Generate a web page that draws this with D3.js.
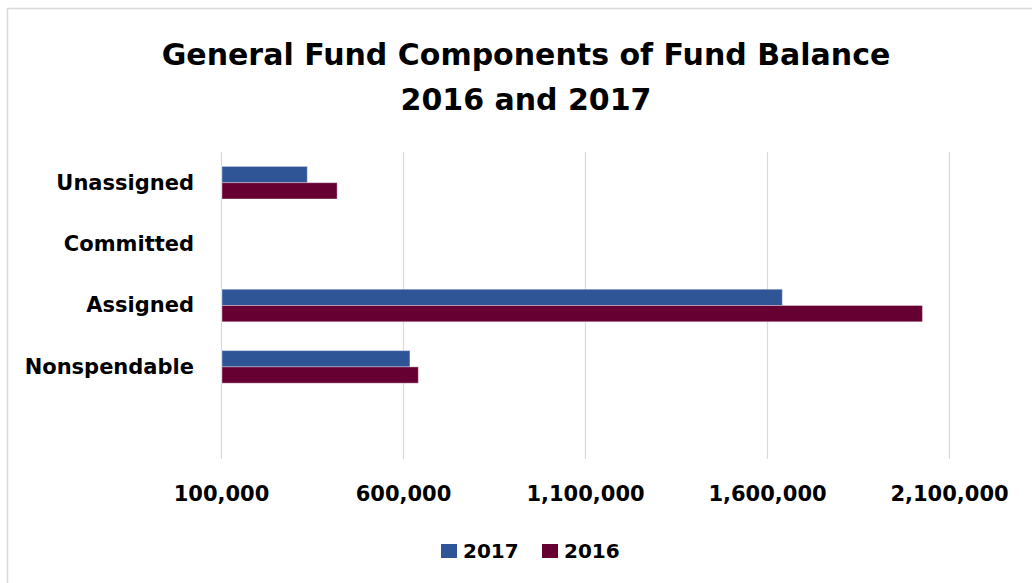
<!DOCTYPE html>
<html>
<head>
<meta charset="utf-8">
<script src="https://cdn.jsdelivr.net/npm/d3@7"></script>
<style>
  html, body { margin: 0; padding: 0; background: #fff; }
  svg { display: block; }
  text { font-family: "DejaVu Sans", sans-serif; font-weight: bold; fill: #000; }
</style>
</head>
<body>
<svg id="chart" width="1032" height="583"></svg>
<script>
// Fund balance components, bottom row left blank as in the source table
const categories = ["Unassigned", "Committed", "Assigned", "Nonspendable", ""];
const series = ["2017", "2016"];
const values2017 = [337000, 0, 1642000, 619000, null];
const values2016 = [419000, 0, 2027000, 642000, null];
const tickValues = [100000, 600000, 1100000, 1600000, 2100000];
const titleLines = ["General Fund Components of Fund Balance", "2016 and 2017"];
const colors = { "2017": "#2F5597", "2016": "#660033" };

const svg = d3.select("#chart");

// chart frame
svg.append("rect")
  .attr("x", 7.5).attr("y", 8.5)
  .attr("width", 1040).attr("height", 600)
  .attr("fill", "#fff").attr("stroke", "#d9d9d9").attr("stroke-width", 1.5);

const plot = { left: 221, right: 949, top: 152, bottom: 459 };

const x = d3.scaleLinear()
  .domain([tickValues[0], tickValues[tickValues.length - 1]])
  .range([plot.left, plot.right])
  .clamp(true);

const y = d3.scaleBand()
  .domain(categories)
  .range([plot.top, plot.bottom])
  .paddingInner(0.47)
  .paddingOuter(0.235);

const ySub = d3.scaleBand()
  .domain(series)
  .range([0, y.bandwidth()]);

// title
svg.append("text")
  .attr("x", 526).attr("text-anchor", "middle")
  .style("font-size", "30px")
  .selectAll("tspan")
  .data(titleLines)
  .join("tspan")
  .attr("x", 526)
  .attr("y", (d, i) => 65 + i * 45)
  .text(d => d);

// vertical gridlines
svg.append("g")
  .selectAll("line")
  .data(tickValues)
  .join("line")
  .attr("x1", d => x(d) + 0.5).attr("x2", d => x(d) + 0.5)
  .attr("y1", plot.top).attr("y2", plot.bottom)
  .attr("stroke", "#d9d9d9").attr("stroke-width", 1.2);

// x axis tick labels
const xAxis = d3.axisBottom(x)
  .tickValues(tickValues)
  .tickFormat(d3.format(","))
  .tickSize(0)
  .tickPadding(0);
const gx = svg.append("g")
  .attr("transform", `translate(0,${plot.bottom})`)
  .call(xAxis);
gx.select(".domain").remove();
gx.selectAll("text")
  .attr("y", 42).attr("dy", 0)
  .style("font-size", "21px")
  .style("font-family", "DejaVu Sans, sans-serif")
  .style("font-weight", "bold")
  .attr("fill", "#000");

// category labels
const yAxis = d3.axisLeft(y).tickSize(0).tickPadding(0);
const gy = svg.append("g")
  .attr("transform", `translate(194,0)`)
  .call(yAxis);
gy.select(".domain").remove();
gy.selectAll("text")
  .attr("dy", "0.33em")
  .style("font-size", "21px")
  .style("font-family", "DejaVu Sans, sans-serif")
  .style("font-weight", "bold")
  .attr("fill", "#000");

// bars
const rows = categories.map((c, i) => ({
  category: c,
  values: [
    { key: "2017", value: values2017[i] },
    { key: "2016", value: values2016[i] }
  ]
}));

svg.append("g")
  .selectAll("g")
  .data(rows)
  .join("g")
  .attr("transform", d => `translate(0,${y(d.category)})`)
  .selectAll("rect")
  .data(d => d.values.filter(v => v.value != null && x(v.value) > x.range()[0]))
  .join("rect")
  .attr("x", plot.left + 1)
  .attr("y", d => ySub(d.key))
  .attr("width", d => x(d.value) - plot.left - 1)
  .attr("height", ySub.bandwidth())
  .attr("fill", d => colors[d.key])
  .attr("stroke", "rgba(255,255,255,0.35)")
  .attr("stroke-width", 1);

// legend
const legendItems = [
  { key: "2017", x: 441 },
  { key: "2016", x: 542 }
];
const lg = svg.append("g");
lg.selectAll("rect")
  .data(legendItems)
  .join("rect")
  .attr("x", d => d.x).attr("y", 544)
  .attr("width", 16).attr("height", 14)
  .attr("fill", d => colors[d.key]);
lg.selectAll("text")
  .data(legendItems)
  .join("text")
  .attr("x", d => d.x + 22).attr("y", 558)
  .style("font-size", "20px")
  .text(d => d.key);
</script>
</body>
</html>
